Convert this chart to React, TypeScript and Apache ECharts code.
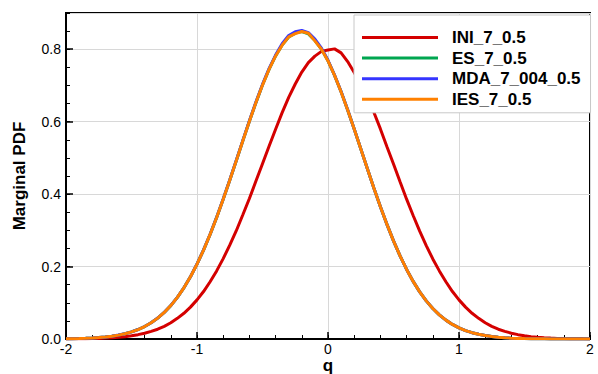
import React, { useEffect, useRef } from "react";
import * as echarts from "echarts";

const Q = [
  -2, -1.95, -1.9, -1.85, -1.8, -1.75, -1.7, -1.65, -1.6, -1.55, -1.5, -1.45, -1.4, -1.35, -1.3, -1.25,
  -1.2, -1.15, -1.1, -1.05, -1, -0.95, -0.9, -0.85, -0.8, -0.75, -0.7, -0.65, -0.6, -0.55, -0.5, -0.45,
  -0.4, -0.35, -0.3, -0.25, -0.2, -0.15, -0.1, -0.05, 0, 0.05, 0.1, 0.15, 0.2, 0.25, 0.3, 0.35, 0.4,
  0.45, 0.5, 0.55, 0.6, 0.65, 0.7, 0.75, 0.8, 0.85, 0.9, 0.95, 1, 1.05, 1.1, 1.15, 1.2, 1.25, 1.3,
  1.35, 1.4, 1.45, 1.5, 1.55, 1.6, 1.65, 1.7, 1.75, 1.8, 1.85, 1.9, 1.95, 2,
];

const INI_7_05 = [
  0.0003, 0.0004, 0.0006, 0.0008, 0.0012, 0.0017, 0.0025, 0.0034, 0.0048, 0.0065, 0.0089, 0.012, 0.016,
  0.021, 0.027, 0.035, 0.045, 0.057, 0.071, 0.088, 0.108, 0.131, 0.158, 0.188, 0.222, 0.259, 0.299,
  0.343, 0.388, 0.436, 0.484, 0.532, 0.579, 0.625, 0.667, 0.704, 0.737, 0.763, 0.781, 0.794, 0.798,
  0.801, 0.79, 0.766, 0.736, 0.704, 0.668, 0.626, 0.58, 0.531, 0.483, 0.434, 0.386, 0.341, 0.298,
  0.258, 0.221, 0.188, 0.158, 0.131, 0.108, 0.088, 0.071, 0.057, 0.045, 0.035, 0.027, 0.021, 0.016,
  0.012, 0.009, 0.0065, 0.0048, 0.0034, 0.0025, 0.0017, 0.0012, 0.0008, 0.0006, 0.0004, 0.0003,
];

const ES_7_05 = [
  0.0006, 0.0009, 0.0013, 0.0019, 0.0028, 0.004, 0.0056, 0.0078, 0.0107, 0.0146, 0.0196, 0.0262,
  0.0344, 0.0447, 0.0577, 0.0733, 0.0922, 0.1149, 0.1413, 0.1716, 0.2066, 0.2455, 0.2886, 0.3357,
  0.3856, 0.4384, 0.4923, 0.5472, 0.6011, 0.6526, 0.7012, 0.7442, 0.7816, 0.8114, 0.8335, 0.8445,
  0.8485, 0.8425, 0.824, 0.8005, 0.768, 0.7275, 0.6825, 0.6322, 0.5797, 0.5252, 0.4708, 0.4169,
  0.3654, 0.3163, 0.271, 0.2293, 0.1922, 0.159, 0.1301, 0.1053, 0.0843, 0.0667, 0.0521, 0.0403,
  0.0309, 0.0233, 0.0174, 0.0129, 0.0094, 0.0068, 0.0049, 0.0034, 0.0024, 0.0017, 0.0011, 0.0008,
  0.0005, 0.0004, 0.0002, 0.0002, 0.0001, 0.0001, 0.0001, 0, 0,
];

const MDA_7_004_05 = [
  0.0006, 0.0009, 0.0013, 0.0019, 0.0028, 0.004, 0.0056, 0.0078, 0.0108, 0.0147, 0.0197, 0.0262,
  0.0345, 0.0449, 0.0578, 0.0735, 0.0925, 0.115, 0.1415, 0.172, 0.207, 0.246, 0.2893, 0.3362,
  0.3864, 0.4392, 0.4934, 0.5483, 0.6024, 0.6542, 0.7028, 0.7463, 0.7838, 0.815, 0.838, 0.848,
  0.852, 0.846, 0.828, 0.803, 0.7695, 0.7285, 0.683, 0.633, 0.58, 0.5255, 0.4708, 0.417, 0.3653,
  0.3164, 0.2709, 0.2294, 0.1921, 0.159, 0.1302, 0.1053, 0.0843, 0.0667, 0.0521, 0.0403, 0.0309,
  0.0233, 0.0174, 0.0129, 0.0094, 0.0068, 0.0049, 0.0034, 0.0024, 0.0017, 0.0011, 0.0008, 0.0005,
  0.0004, 0.0002, 0.0002, 0.0001, 0.0001, 0.0001, 0, 0,
];

const IES_7_05 = [
  0.0006, 0.0009, 0.0013, 0.0019, 0.0028, 0.004, 0.0056, 0.0078, 0.0107, 0.0146, 0.0196, 0.0261,
  0.0344, 0.0448, 0.0576, 0.0733, 0.0923, 0.1148, 0.1412, 0.1717, 0.2065, 0.2455, 0.2887, 0.3356,
  0.3857, 0.4383, 0.4924, 0.5471, 0.601, 0.6527, 0.701, 0.7443, 0.7814, 0.8112, 0.834, 0.843, 0.849,
  0.844, 0.823, 0.8, 0.7675, 0.7277, 0.6822, 0.6324, 0.5796, 0.5253, 0.4707, 0.417, 0.3653, 0.3164,
  0.2709, 0.2294, 0.1921, 0.159, 0.1302, 0.1053, 0.0843, 0.0667, 0.0521, 0.0403, 0.0309, 0.0233,
  0.0174, 0.0129, 0.0094, 0.0068, 0.0049, 0.0034, 0.0024, 0.0017, 0.0011, 0.0008, 0.0005, 0.0004,
  0.0002, 0.0002, 0.0001, 0.0001, 0.0001, 0, 0,
];

const SERIES_NAMES = ["INI_7_0.5", "ES_7_0.5", "MDA_7_004_0.5", "IES_7_0.5"];
const SERIES_VALUES = [INI_7_05, ES_7_05, MDA_7_004_05, IES_7_05];
const SERIES_COLORS = ["#d40000", "#00a650", "#3535ff", "#ff8000"];

const X_TITLE = "q";
const Y_TITLE = "Marginal PDF";

const FONT = "'Liberation Sans', Arial, Helvetica, sans-serif";

export default function App() {
  const ref = useRef<HTMLDivElement>(null);

  useEffect(() => {
    if (!ref.current) return;
    const chart = echarts.init(ref.current, undefined, { renderer: "svg" });
    chart.setOption({
      animation: false,
      backgroundColor: "#fff",
      grid: {
        left: 66,
        right: 8,
        top: 13,
        bottom: 35,
        containLabel: false,
        outerBoundsMode: "none",
        show: true,
        borderColor: "#000",
        borderWidth: 2,
        backgroundColor: "transparent",
      },
      legend: {
        orient: "vertical",
        left: 354,
        top: 15,
        padding: [14, 10, 5, 8],
        itemGap: 3.6,
        itemWidth: 76,
        itemHeight: 3,
        icon: "rect",
        backgroundColor: "#fff",
        borderColor: "#c8c8c8",
        borderWidth: 1,
        borderRadius: 0,
        data: SERIES_NAMES,
        textStyle: {
          fontFamily: FONT,
          fontSize: 17,
          fontWeight: "bold",
          color: "#000",
          lineHeight: 17,
          padding: [0, 0, 0, 9],
        },
      },
      xAxis: [
        {
          type: "value",
          min: -2,
          max: 2,
          interval: 1,
          name: X_TITLE,
          nameLocation: "middle",
          nameGap: 19,
          nameMoveOverlap: false,
          nameTextStyle: { fontFamily: FONT, fontSize: 17, fontWeight: "bold", color: "#000", lineHeight: 14 },
          axisLine: { show: true, onZero: false, lineStyle: { color: "#000", width: 2 } },
          axisTick: { show: true, inside: true, length: 7, lineStyle: { color: "#000", width: 1.5 } },
          axisLabel: { fontFamily: FONT, fontSize: 14, color: "#000", margin: 3, lineHeight: 14 },
          splitLine: { show: true, lineStyle: { color: "#d8d8d8", width: 1 } },
        },
        {
          type: "value",
          min: -2,
          max: 2,
          interval: 0.2,
          position: "bottom",
          offset: 0,
          axisLine: { show: false, onZero: false },
          axisTick: { show: true, inside: true, length: 4, lineStyle: { color: "#000", width: 1 } },
          axisLabel: { show: false },
          splitLine: { show: false },
        },
      ],
      yAxis: [
        {
          type: "value",
          min: 0,
          max: 0.9,
          interval: 0.2,
          name: Y_TITLE,
          nameLocation: "middle",
          nameGap: 38,
          nameMoveOverlap: false,
          nameTextStyle: { fontFamily: FONT, fontSize: 17, fontWeight: "bold", color: "#000" },
          axisLine: { show: true, onZero: false, lineStyle: { color: "#000", width: 2 } },
          axisTick: { show: true, inside: true, length: 7, lineStyle: { color: "#000", width: 1.5 } },
          axisLabel: {
            fontFamily: FONT,
            fontSize: 14,
            color: "#000",
            margin: 5,
            showMaxLabel: false,
            formatter: (v: number) => v.toFixed(1),
          },
          splitLine: { show: true, lineStyle: { color: "#d8d8d8", width: 1 } },
        },
        {
          type: "value",
          min: 0,
          max: 0.9,
          interval: 0.05,
          position: "left",
          offset: 0,
          axisLine: { show: false, onZero: false },
          axisTick: { show: true, inside: true, length: 4, lineStyle: { color: "#000", width: 1 } },
          axisLabel: { show: false },
          splitLine: { show: false },
        },
      ],
      series: SERIES_NAMES.map((name, k) => ({
        name,
        type: "line",
        xAxisIndex: 0,
        yAxisIndex: 0,
        showSymbol: false,
        symbol: "none",
        color: SERIES_COLORS[k],
        lineStyle: { color: SERIES_COLORS[k], width: 3 },
        data: Q.map((q, i) => [q, SERIES_VALUES[k][i]]),
        z: 2 + k,
      })),
    });
    return () => chart.dispose();
  }, []);

  return (
    <div
      ref={ref}
      style={{ position: "absolute", left: 0, top: 0, width: 598, height: 374 }}
    />
  );
}
